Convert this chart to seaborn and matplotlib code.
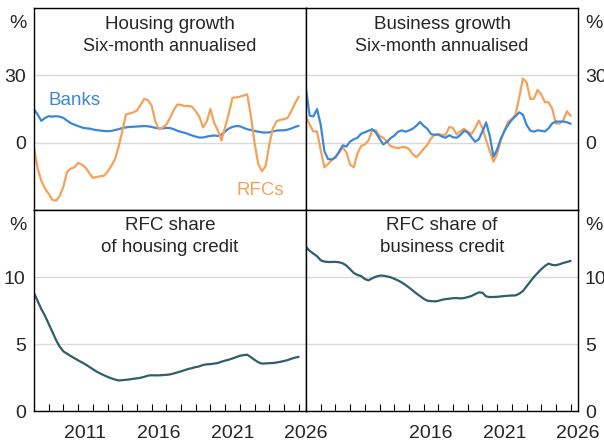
import numpy as np
import pandas as pd
import matplotlib
matplotlib.use("Agg")
import matplotlib.pyplot as plt
import seaborn as sns

sns.set_style("white")
plt.rcParams["font.family"] = ["Liberation Sans", "DejaVu Sans"]

# Quarterly observations, 2008 Q1 to 2026 Q1
dates = pd.date_range("2008-01-01", "2026-01-01", freq="QS")

# Housing credit growth, six-month annualised, %
housing_banks = [
    14.9, 12.5, 9.7, 11.0, 11.8, 11.6, 11.8, 11.6, 11.0, 9.8, 8.7, 8.0,
    7.4, 6.8, 6.4, 6.3, 5.9, 5.6, 5.4, 5.2, 5.1, 5.2, 5.6, 6.0,
    6.5, 6.8, 7.0, 7.1, 7.2, 7.3, 7.4, 7.3, 7.0, 6.6, 6.3, 6.4,
    6.6, 6.5, 6.0, 5.3, 4.8, 4.4, 3.8, 3.2, 2.7, 2.3, 2.3, 2.7,
    3.0, 3.2, 3.0, 3.6, 5.0, 6.3, 7.0, 7.4, 7.3, 6.6, 6.0, 5.6,
    5.2, 4.9, 4.6, 4.5, 4.6, 5.0, 5.4, 5.5, 5.5, 5.8, 6.3, 7.0, 7.5,
]
housing_rfcs = [
    -2.2, -11.5, -17.0, -20.5, -22.8, -25.5, -25.8, -23.8, -19.5, -13.0, -11.5, -11.0,
    -9.0, -9.8, -11.0, -13.5, -15.7, -15.3, -15.0, -14.8, -13.0, -10.4, -7.5, -2.0,
    5.0, 12.5, 13.0, 13.5, 14.3, 16.8, 19.5, 19.0, 16.5, 9.5, 6.0, 6.8,
    8.0, 11.0, 14.5, 17.0, 16.8, 16.3, 16.4, 16.0, 14.0, 11.5, 6.8, 9.5,
    15.0, 8.9, 5.5, 1.0, 7.0, 13.0, 20.0, 20.2, 20.5, 21.0, 21.5, 12.0,
    0.0, -9.5, -12.7, -10.5, -1.0, 6.5, 9.5, 10.2, 10.5, 11.0, 14.0, 17.5, 20.5,
]

# Business credit growth, six-month annualised, %
business_banks = [
    23.7, 12.0, 11.7, 15.0, 8.0, -3.8, -7.3, -7.5, -6.6, -4.0, -1.2, -1.7,
    0.5, 1.5, 2.2, 4.0, 4.6, 5.3, 6.0, 4.5, 1.8, -0.8, 0.3, 2.0,
    3.1, 4.8, 5.5, 4.9, 5.4, 6.2, 7.5, 9.2, 7.5, 6.2, 3.8, 3.5,
    3.6, 2.7, 2.2, 3.3, 2.4, 2.2, 3.4, 5.3, 4.5, 2.5, 0.4, 1.5,
    5.0, 9.0, 3.0, -6.2, -3.0, 1.8, 5.2, 8.0, 10.2, 11.8, 13.5, 12.5,
    8.0, 5.4, 4.9, 5.5, 5.3, 5.0, 6.4, 8.6, 9.4, 9.4, 9.4, 9.1, 8.4,
]
business_rfcs = [
    11.7, 8.0, 5.0, 5.0, -3.3, -11.0, -9.5, -7.8, -6.2, -4.5, -2.0, -4.5,
    -9.8, -11.0, -4.8, -1.5, -0.8, 1.0, 5.5, 5.5, 3.0, 2.2, 0.5, -1.5,
    -2.1, -2.5, -2.0, -2.0, -2.8, -5.0, -6.5, -4.8, -2.8, -1.0, 1.8, 3.5,
    3.8, 3.5, 3.5, 7.0, 6.5, 3.6, 5.0, 6.2, 5.0, 3.8, 6.4, 9.8,
    6.5, 1.2, -3.8, -8.5, -5.0, 1.0, 5.5, 9.4, 10.5, 12.5, 20.0, 28.5,
    27.0, 19.5, 19.5, 23.5, 21.5, 18.0, 18.0, 15.0, 8.5, 8.5, 10.0, 14.0, 12.0,
]

# RFC share of credit, %
share_housing = [
    8.8, 8.2, 7.6, 7.1, 6.5, 5.9, 5.3, 4.8, 4.45, 4.27, 4.1, 3.94,
    3.78, 3.63, 3.48, 3.3, 3.12, 2.95, 2.8, 2.67, 2.55, 2.44, 2.35, 2.28,
    2.3, 2.33, 2.36, 2.4, 2.44, 2.48, 2.55, 2.64, 2.67, 2.66, 2.66, 2.68,
    2.7, 2.73, 2.8, 2.88, 2.96, 3.05, 3.14, 3.2, 3.28, 3.33, 3.44, 3.48,
    3.5, 3.54, 3.58, 3.68, 3.76, 3.83, 3.92, 4.02, 4.12, 4.17, 4.2, 4.02,
    3.82, 3.64, 3.54, 3.55, 3.57, 3.58, 3.62, 3.67, 3.73, 3.8, 3.9, 3.98, 4.04,
]
share_business = [
    12.24, 11.95, 11.75, 11.55, 11.25, 11.15, 11.12, 11.12, 11.13, 11.1, 11.02, 10.85,
    10.58, 10.3, 10.15, 10.07, 9.85, 9.75, 9.9, 10.02, 10.1, 10.1, 10.05, 9.98,
    9.87, 9.75, 9.6, 9.42, 9.22, 9.0, 8.78, 8.58, 8.38, 8.23, 8.2, 8.18,
    8.22, 8.3, 8.35, 8.38, 8.42, 8.43, 8.4, 8.43, 8.5, 8.58, 8.72, 8.85,
    8.83, 8.55, 8.5, 8.51, 8.52, 8.55, 8.58, 8.6, 8.62, 8.63, 8.75, 8.95,
    9.3, 9.65, 10.0, 10.3, 10.58, 10.82, 11.0, 10.9, 10.88, 10.95, 11.05, 11.12, 11.2,
]

year_labels_left = ["2011", "2016", "2021", "2026"]
year_labels_right = ["2016", "2021", "2026"]

BLUE = "#3d87d8"
ORANGE = "#f4a259"
TEAL = "#2f5f6a"
GRID = "#d9d9d9"
FS = 13.5

t = dates.year + (dates.month - 1) / 12.0
df = pd.DataFrame({
    "t": t,
    "housing_banks": housing_banks,
    "housing_rfcs": housing_rfcs,
    "business_banks": business_banks,
    "business_rfcs": business_rfcs,
    "share_housing": share_housing,
    "share_business": share_business,
})

W, H = 604, 448
fig = plt.figure(figsize=(W / 100, H / 100), dpi=100)


def box(x0, y0, x1, y1):
    return [x0 / W, 1 - y1 / H, (x1 - x0) / W, (y1 - y0) / H]


ax_hg = fig.add_axes(box(34, 8, 306, 210))
ax_bg = fig.add_axes(box(306, 8, 578, 210))
ax_hs = fig.add_axes(box(34, 210, 306, 411))
ax_bs = fig.add_axes(box(306, 210, 578, 411))

sns.lineplot(data=df, x="t", y="housing_banks", ax=ax_hg, color=BLUE, lw=1.6)
sns.lineplot(data=df, x="t", y="housing_rfcs", ax=ax_hg, color=ORANGE, lw=1.6)
sns.lineplot(data=df, x="t", y="business_rfcs", ax=ax_bg, color=ORANGE, lw=1.6)
sns.lineplot(data=df, x="t", y="business_banks", ax=ax_bg, color=BLUE, lw=1.6)
sns.lineplot(data=df, x="t", y="share_housing", ax=ax_hs, color=TEAL, lw=1.6)
sns.lineplot(data=df, x="t", y="share_business", ax=ax_bs, color=TEAL, lw=1.6)

titles = {
    ax_hg: ("Housing growth", "Six-month annualised", -12.2, -27.5, 13),
    ax_bg: ("Business growth", "Six-month annualised", -12.2, -27.5, 13),
    ax_hs: ("RFC share", "of housing credit", -10.8, -26.8, FS),
    ax_bs: ("RFC share of", "business credit", -10.8, -26.8, FS),
}

for ax in (ax_hg, ax_bg, ax_hs, ax_bs):
    ax.set_xlim(2008, 2026.5)
    ax.set_xlabel("")
    ax.set_ylabel("")
    for s in ax.spines.values():
        s.set_visible(True)
        s.set_color("black")
        s.set_linewidth(1.0)
    ax.grid(axis="y", color=GRID, lw=1.0)
    ax.grid(axis="x", visible=False)
    ax.set_axisbelow(True)
    ax.tick_params(axis="y", length=0, labelsize=14, pad=6)
    l1, l2, o1, o2, fs2 = titles[ax]
    ax.annotate(l1, xy=(0.5, 1), xycoords="axes fraction", xytext=(0, o1),
                textcoords="offset points", ha="center", va="center", fontsize=FS)
    ax.annotate(l2, xy=(0.5, 1), xycoords="axes fraction", xytext=(0, o2),
                textcoords="offset points", ha="center", va="center", fontsize=fs2)

# Growth panels
for ax in (ax_hg, ax_bg):
    ax.set_ylim(-30, 60)
    ax.set_yticks([0, 30, 60])
    ax.set_yticklabels(["0", "30", ""])
    ax.set_xticks([])

# Share panels
years = np.arange(2008, 2027)
for ax, labels in ((ax_hs, year_labels_left), (ax_bs, year_labels_right)):
    ax.set_ylim(0, 15)
    ax.set_yticks([0, 5, 10, 15])
    ax.set_yticklabels(["0", "5", "10", ""])
    ax.set_xticks(years)
    ax.set_xticklabels([])
    ax.set_xticks([int(l) + 0.5 for l in labels], minor=True)
    ax.set_xticklabels(labels, minor=True)
    ax.tick_params(axis="x", which="major", direction="in", length=5,
                   width=0.8, color="black", bottom=True)
    ax.tick_params(axis="x", which="minor", length=0, labelsize=14, pad=10)

for ax in (ax_bg, ax_bs):
    ax.yaxis.tick_right()
    ax.tick_params(axis="y", length=0, labelsize=14, pad=5)

# Unit markers at the top of each value axis
for ax, side in ((ax_hg, 0), (ax_hs, 0), (ax_bg, 1), (ax_bs, 1)):
    ax.annotate("%", xy=(side, 1), xycoords="axes fraction",
                xytext=(-5 if side == 0 else 5, -11), textcoords="offset points",
                ha="right" if side == 0 else "left", va="center", fontsize=14)

ax_hg.text(2010.76, 18.6, "Banks", color=BLUE, fontsize=FS, ha="center", va="center")
ax_hg.text(2023.39, -21.2, "RFCs", color=ORANGE, fontsize=FS, ha="center", va="center")

fig.savefig("out.png", dpi=100)
